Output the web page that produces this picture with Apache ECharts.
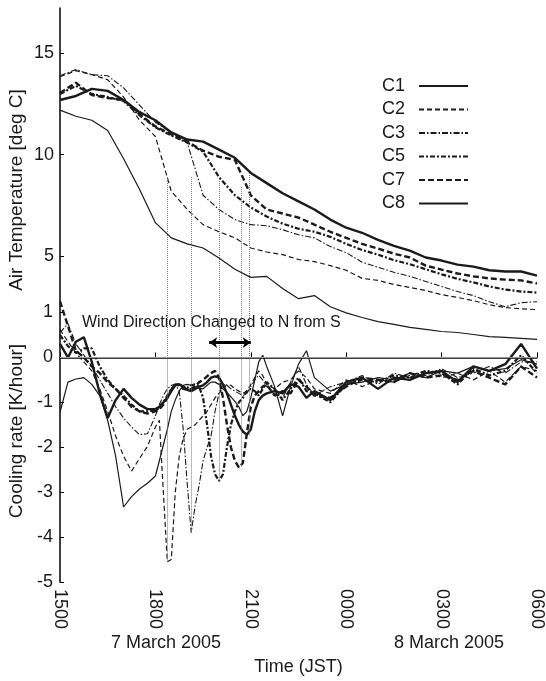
<!DOCTYPE html>
<html>
<head>
<meta charset="utf-8">
<script src="https://cdn.jsdelivr.net/npm/echarts@6/dist/echarts.min.js"></script>
<style>
  html, body { margin: 0; padding: 0; background: #fff; }
  #chart { width: 546px; height: 681px; }
</style>
</head>
<body>
<div id="chart"></div>
<script>
// time in hours after 1500 JST, 7 March 2005
const tempTimes = [0, 0.5, 1, 1.5, 2, 2.5, 3, 3.5, 4, 4.5, 5, 5.5, 6, 6.5, 7, 7.5,
  8, 8.5, 9, 9.5, 10, 10.5, 11, 11.5, 12, 12.5, 13, 13.5, 14, 14.5, 15]
const coolTimes = [0, 0.25, 0.5, 0.75, 1, 1.25, 1.5, 1.75, 2, 2.25, 2.5, 2.75, 3,
  3.125, 3.25, 3.375, 3.5, 3.625, 3.75, 3.875, 4, 4.125, 4.25, 4.375, 4.5, 4.625, 4.75, 4.875,
  5, 5.125, 5.25, 5.375, 5.5, 5.625, 5.75, 5.875, 6, 6.125, 6.25, 6.375, 6.5,
  6.75, 7, 7.25, 7.5, 7.75, 8,
  8.5, 9, 9.5, 10, 10.5, 11, 11.5, 12, 12.5, 13, 13.5, 14, 14.5, 15]
const timeTickLabels = ['1500', '1800', '2100', '0000', '0300', '0600']
const seriesNames = ['C1', 'C2', 'C3', 'C5', 'C7', 'C8']

// air temperature [deg C]
const tempC1 = [12.2, 11.9, 11.7, 11.2, 9.8, 8.3, 6.65, 5.9, 5.6, 5.4, 4.9, 4.35, 3.95, 4.0, 3.4, 2.9,
  3.05, 2.5, 2.2, 1.97, 1.77, 1.63, 1.48, 1.38, 1.28, 1.23, 1.13, 1.03, 0.99, 0.94, 0.89]
const tempC2 = [13.85, 14.15, 13.95, 13.7, 12.85, 11.7, 10.9, 8.2, 7.3, 6.55, 6.2, 5.9, 5.4, 5.2, 5.07, 4.83,
  4.73, 4.53, 4.3, 3.9, 3.8, 3.6, 3.45, 3.3, 3.1, 2.96, 2.8, 2.6, 2.46, 2.4, 2.36]
const tempC3 = [13.9, 14.2, 13.95, 13.9, 13.3, 12.45, 11.6, 11.1, 10.6, 8.0, 7.3, 6.8, 6.55, 6.5, 6.3, 6.05,
  5.9, 5.47, 5.17, 4.7, 4.45, 4.2, 4.0, 3.75, 3.5, 3.25, 3.05, 2.75, 2.5, 2.7, 2.75]
const tempC5 = [13.0, 13.4, 13.0, 12.85, 12.65, 11.95, 11.35, 10.95, 10.6, 10.15, 8.9, 8.0, 7.4, 6.95, 6.6, 6.35,
  6.2, 5.95, 5.6, 5.3, 5.07, 4.8, 4.6, 4.35, 4.1, 3.88, 3.7, 3.5, 3.35, 3.25, 3.2]
const tempC7 = [13.05, 13.55, 12.95, 12.8, 12.7, 12.0, 11.4, 11.0, 10.65, 10.2, 9.9, 9.75, 8.0, 7.3, 7.1, 6.9,
  6.55, 6.2, 5.9, 5.6, 5.37, 5.12, 4.93, 4.53, 4.33, 4.14, 4.0, 3.9, 3.84, 3.8, 3.65]
const tempC8 = [12.7, 12.9, 13.25, 13.15, 12.7, 12.1, 11.7, 11.1, 10.75, 10.65, 10.25, 9.85, 9.1, 8.6, 8.1, 7.7,
  7.3, 6.8, 6.4, 6.15, 5.8, 5.5, 5.27, 4.93, 4.78, 4.58, 4.48, 4.3, 4.24, 4.24, 4.04]

// cooling rate [K/hour]
const coolC1 = [-1.22, -0.55, -0.48, -0.45, -0.6, -0.85, -1.4, -2.2, -3.33, -3.1, -2.93, -2.8, -2.64,
  -2.3, -1.95, -1.6, -1.2, -0.95, -0.75, -0.62, -0.6, -0.62, -0.65, -0.68, -0.7, -0.62, -0.55, -0.55,
  -0.6, -0.7, -0.78, -0.88, -0.98, -1.1, -1.3, -1.2, -0.9, -0.5, -0.1, 0.05, -0.2,
  -0.65, -1.3, -0.65, -0.15, 0.15, -0.45,
  -0.75, -0.6, -0.55, -0.45, -0.5, -0.35, -0.45, -0.3, -0.35, -0.2, -0.3, -0.25, -0.05, -0.15]
const coolC2 = [0.62, 0.35, 0.1, -0.1, -0.3, -0.7, -1.2, -1.75, -2.2, -2.53, -2.25, -1.98, -1.55,
  -1.4, -3.0, -4.55, -4.5, -3.0, -2.2, -1.8, -1.6, -1.55, -1.5, -1.4, -1.3, -1.2, -1.05, -0.9,
  -0.8, -0.7, -0.6, -0.62, -0.7, -0.75, -0.8, -0.75, -0.6, -0.45, -0.3, -0.4, -0.6,
  -0.7, -0.55, -0.5, -0.3, -0.45, -0.7,
  -0.8, -0.5, -0.65, -0.5, -0.55, -0.4, -0.3, -0.45, -0.35, -0.5, -0.3, -0.55, -0.2, -0.3]
const coolC3 = [0.55, 0.75, 0.3, 0.05, -0.2, -0.5, -0.8, -1.1, -1.35, -1.55, -1.72, -1.7, -1.3,
  -1.05, -0.85, -0.7, -0.62, -0.6, -0.75, -1.6, -2.8, -3.9, -3.3, -2.85, -2.3, -2.0, -1.75, -1.2,
  -0.8, -0.6, -0.62, -0.7, -0.75, -0.8, -0.85, -0.8, -0.65, -0.5, -0.4, -0.5, -0.65,
  -0.8, -0.9, -0.55, -0.2, -0.6, -0.85,
  -0.65, -0.55, -0.4, -0.6, -0.35, -0.45, -0.4, -0.25, -0.45, -0.35, -0.2, -0.35, -0.1, -0.1]
const coolC5 = [0.5, 0.25, 0.1, 0.2, 0.2, -0.2, -0.5, -0.7, -0.85, -1.05, -1.2, -1.2, -1.18,
  -1.12, -1.0, -0.85, -0.7, -0.6, -0.6, -0.65, -0.68, -0.62, -0.6, -0.65, -0.9, -1.5, -2.2, -2.6,
  -2.75, -2.6, -2.0, -1.5, -1.2, -1.0, -0.9, -0.75, -0.7, -0.75, -0.85, -0.7, -0.55,
  -0.7, -0.95, -0.7, -0.45, -0.75, -0.8,
  -1.0, -0.6, -0.5, -0.55, -0.4, -0.45, -0.3, -0.35, -0.6, -0.25, -0.4, -0.3, 0.05, -0.35]
const coolC7 = [1.25, 0.7, 0.15, 0.0, -0.2, -0.35, -0.55, -0.7, -0.9, -1.1, -1.2, -1.25, -1.2,
  -1.15, -1.05, -0.9, -0.72, -0.6, -0.62, -0.7, -0.72, -0.7, -0.65, -0.55, -0.5, -0.42, -0.35, -0.3,
  -0.45, -0.9, -1.5, -2.0, -2.3, -2.45, -2.35, -1.7, -1.1, -0.85, -0.75, -0.65, -0.6,
  -0.85, -0.75, -0.8, -0.5, -0.65, -0.85,
  -0.9, -0.65, -0.45, -0.5, -0.55, -0.35, -0.45, -0.4, -0.5, -0.3, -0.45, -0.6, -0.2, -0.45]
const coolC8 = [0.3, 0.0, 0.35, 0.45, -0.1, -0.8, -1.35, -0.95, -0.7, -0.9, -1.05, -1.15, -1.15,
  -1.1, -1.0, -0.9, -0.75, -0.62, -0.6, -0.65, -0.72, -0.75, -0.7, -0.65, -0.62, -0.55, -0.45, -0.42,
  -0.45, -0.6, -0.8, -1.05, -1.3, -1.5, -1.65, -1.72, -1.6, -1.2, -0.95, -0.85, -0.8,
  -0.75, -0.8, -0.6, -0.65, -0.9, -0.75,
  -0.95, -0.55, -0.45, -0.7, -0.45, -0.5, -0.35, -0.3, -0.55, -0.2, -0.3, -0.15, 0.3, -0.25]

// sudden drops linked by dotted lines (C2, C3, C5, C7, C8)
const dropTimes = [3.375, 4.125, 5.0, 5.69, 5.94]
const dropTemps = [8.9, 8.9, 8.8, 8.4, 9.1]
const dropRates = [-4.55, -3.9, -2.75, -2.45, -1.75]
const windArrow = [4.69, 6.0]
const windArrowRate = 0.33

const tempTicks = [5, 10, 15]
const coolTicks = [1, 0, -1, -2, -3, -4, -5]

const FONT = "'Liberation Sans', Arial, sans-serif"
const INK = '#1a1a1a'

const temps = [tempC1, tempC2, tempC3, tempC5, tempC7, tempC8]
const cools = [coolC1, coolC2, coolC3, coolC5, coolC7, coolC8]
const styles = [
  { width: 1.2, type: 'solid' },
  { width: 1.2, type: [5, 3] },
  { width: 1.1, type: [6, 2, 1.5, 2] },
  { width: 2.2, type: [5, 2, 2, 2] },
  { width: 2.4, type: [6, 3] },
  { width: 2.4, type: 'solid' },
]

const pairs = (xs, ys) => xs.map((x, i) => [x, ys[i]])

const series = []
seriesNames.forEach((name, i) => {
  series.push({
    name, type: 'line', xAxisIndex: 0, yAxisIndex: 0,
    data: pairs(tempTimes, temps[i]),
    symbol: 'none',
    lineStyle: { color: INK, ...styles[i] },
    itemStyle: { color: INK },
  })
  series.push({
    name, type: 'line', xAxisIndex: 0, yAxisIndex: 1,
    data: pairs(coolTimes, cools[i]),
    symbol: 'none',
    lineStyle: { color: INK, ...styles[i] },
    itemStyle: { color: INK },
  })
})

const dotted = { color: '#777', type: 'dotted', width: 1 }
// upper part of the dotted lines (temperature scale, down to 0)
series[0].markLine = {
  silent: true, symbol: 'none', label: { show: false }, lineStyle: dotted,
  data: dropTimes.map((t, i) => [{ coord: [t, dropTemps[i]] }, { coord: [t, 0] }]),
}
// lower part (cooling scale) plus the zero line
series[1].markLine = {
  silent: true, symbol: 'none', label: { show: false }, lineStyle: dotted,
  data: [
    { yAxis: 0, lineStyle: { color: '#999', type: 'solid', width: 1 } },
    ...dropTimes.map((t, i) => [{ coord: [t, 0] }, { coord: [t, dropRates[i]] }]),
  ],
}
// wind change arrow
series[11].markLine = {
  silent: true, symbol: ['arrow', 'arrow'], symbolSize: 8, label: { show: false },
  lineStyle: { color: '#000', type: 'solid', width: 3 },
  data: [[{ coord: [windArrow[0], windArrowRate] }, { coord: [windArrow[1], windArrowRate] }]],
}

const chart = echarts.init(document.getElementById('chart'))
chart.setOption({
  animation: false,
  textStyle: { fontFamily: FONT },
  grid: { left: 60, right: 6, top: 8, bottom: 98 },
  legend: {
    data: seriesNames, orient: 'vertical', left: 377, top: 72,
    itemWidth: 49, itemHeight: 18, itemGap: 5.5, align: 'right',
    itemStyle: { opacity: 0 },
    textStyle: { fontSize: 18, color: INK, fontFamily: FONT, padding: [0, 9, 0, 0] },
  },
  xAxis: {
    type: 'value', min: 0, max: 15, interval: 3,
    axisLine: { lineStyle: { color: '#000', width: 1.5 } },
    axisTick: { inside: true, length: 5, lineStyle: { color: '#000' } },
    axisLabel: {
      rotate: -90, fontSize: 18, color: INK, margin: 7,
      formatter: v => timeTickLabels[Math.round(v / 3)],
    },
    splitLine: { show: false },
    name: 'Time (JST)', nameLocation: 'middle', nameGap: 76,
    nameTextStyle: { fontSize: 18, color: INK },
  },
  yAxis: [
    {
      type: 'value', min: -11.08, max: 17.24, position: 'left',
      axisLine: { show: true, lineStyle: { color: '#000', width: 1.5 } },
      axisTick: { show: true, inside: true, length: 4, customValues: tempTicks, lineStyle: { color: '#000' } },
      axisLabel: { customValues: tempTicks, fontSize: 18, color: INK, margin: 6 },
      splitLine: { show: false },
    },
    {
      type: 'value', min: -5, max: 7.78, position: 'left', offset: 0,
      axisLine: { show: false },
      axisTick: { show: true, inside: true, length: 4, customValues: coolTicks, lineStyle: { color: '#000' } },
      axisLabel: { customValues: coolTicks, fontSize: 18, color: INK, margin: 7 },
      splitLine: { show: false },
    },
  ],
  graphic: [
    { type: 'text', x: 17, y: 190, rotation: Math.PI / 2,
      style: { text: 'Air Temperature [deg C]', fontSize: 19, fontFamily: FONT, fill: INK, align: 'center', verticalAlign: 'middle' } },
    { type: 'text', x: 17, y: 431, rotation: Math.PI / 2,
      style: { text: 'Cooling rate [K/hour]', fontSize: 19, fontFamily: FONT, fill: INK, align: 'center', verticalAlign: 'middle' } },
    { type: 'text', x: 166, y: 643,
      style: { text: '7 March 2005', fontSize: 18, fontFamily: FONT, fill: INK, align: 'center', verticalAlign: 'middle' } },
    { type: 'text', x: 449, y: 643,
      style: { text: '8 March 2005', fontSize: 18, fontFamily: FONT, fill: INK, align: 'center', verticalAlign: 'middle' } },
    { type: 'text', x: 82, y: 323,
      style: { text: 'Wind Direction Changed to N from S', fontSize: 16, fontFamily: FONT, fill: INK, align: 'left', verticalAlign: 'middle' } },
  ],
  series,
})
window.addEventListener('resize', () => chart.resize())
</script>
</body>
</html>
